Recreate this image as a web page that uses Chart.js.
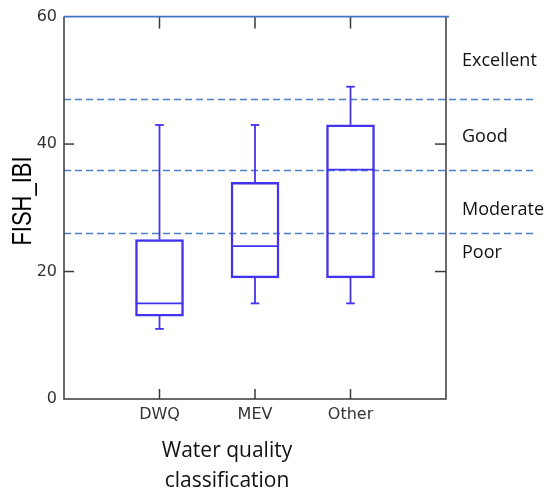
<!DOCTYPE html>
<html><head><meta charset="utf-8">
<script src="https://cdn.jsdelivr.net/npm/chart.js@4.4.1/dist/chart.umd.min.js"></script>
<style>html,body{margin:0;padding:0;background:#fff;overflow:hidden;}</style>
</head><body><canvas id="c" width="551" height="495"></canvas>
<script>
const categories = ['DWQ', 'MEV', 'Other'];
const whiskerLow = [11, 15, 15];
const q1 = [13, 19, 19];
const median = [15, 24, 36];
const q3 = [25, 34, 43];
const whiskerHigh = [43, 43, 49];
const yTicks = [0, 20, 40, 60];
const classThresholds = [47, 36, 26];
const classNames = ['Excellent', 'Good', 'Moderate', 'Poor'];
const classLabelValues = [53, 41.1, 29.6, 22.9];
const xTitle = ['Water quality', 'classification'];
const yTitle = 'FISH_IBI';

const BOX = '#4433ee';
const AXIS = '#3a3a3a';
const DASH = '#4a80c8';
const TOPLINE = '#4472c4';

const boxPlugin = {
  id: 'boxExtras',
  beforeDatasetsDraw(chart) {
    const {ctx, chartArea: a, scales: {x, y}} = chart;
    ctx.save();
    ctx.strokeStyle = DASH; ctx.lineWidth = 1.5; ctx.setLineDash([7, 4]);
    classThresholds.forEach(v => {
      const py = Math.round(y.getPixelForValue(v)) + 0.5;
      ctx.beginPath(); ctx.moveTo(a.left, py); ctx.lineTo(a.right + 91, py); ctx.stroke();
    });
    ctx.setLineDash([]);
    ctx.restore();
  },
  afterDatasetsDraw(chart) {
    const {ctx, chartArea: a, scales: {x, y}} = chart;
    ctx.save();
    ctx.strokeStyle = AXIS; ctx.lineWidth = 1.5;
    ctx.beginPath();
    ctx.moveTo(a.left, a.top); ctx.lineTo(a.left, a.bottom); ctx.lineTo(a.right, a.bottom); ctx.lineTo(a.right, a.top);
    ctx.stroke();
    y.ticks.forEach(t => {
      if (t.value === y.min || t.value === y.max) return;
      const py = y.getPixelForValue(t.value);
      ctx.beginPath(); ctx.moveTo(a.left, py); ctx.lineTo(a.left + 10, py); ctx.stroke();
      ctx.beginPath(); ctx.moveTo(a.right, py); ctx.lineTo(a.right - 11, py); ctx.stroke();
    });
    x.ticks.forEach(t => {
      const px = x.getPixelForValue(t.value);
      ctx.beginPath(); ctx.moveTo(px, a.bottom); ctx.lineTo(px, a.bottom - 10); ctx.stroke();
      ctx.beginPath(); ctx.moveTo(px, a.top); ctx.lineTo(px, a.top + 12); ctx.stroke();
    });
    ctx.strokeStyle = TOPLINE; ctx.lineWidth = 1.8;
    const ty = y.getPixelForValue(y.max);
    ctx.beginPath(); ctx.moveTo(a.left, ty); ctx.lineTo(a.right + 3, ty); ctx.stroke();
    ctx.strokeStyle = BOX; ctx.lineWidth = 1.8;
    const capHalf = 0.045, boxHalf = 0.25;
    categories.forEach((c, i) => {
      const cx = x.getPixelForValue(i + 1);
      const segs = [
        [cx, y.getPixelForValue(q3[i]), cx, y.getPixelForValue(whiskerHigh[i])],
        [cx, y.getPixelForValue(q1[i]), cx, y.getPixelForValue(whiskerLow[i])],
        [x.getPixelForValue(i + 1 - capHalf), y.getPixelForValue(whiskerHigh[i]), x.getPixelForValue(i + 1 + capHalf), y.getPixelForValue(whiskerHigh[i])],
        [x.getPixelForValue(i + 1 - capHalf), y.getPixelForValue(whiskerLow[i]), x.getPixelForValue(i + 1 + capHalf), y.getPixelForValue(whiskerLow[i])],
        [x.getPixelForValue(i + 1 - boxHalf), y.getPixelForValue(median[i]), x.getPixelForValue(i + 1 + boxHalf), y.getPixelForValue(median[i])]
      ];
      segs.forEach(s => { ctx.beginPath(); ctx.moveTo(s[0], s[1]); ctx.lineTo(s[2], s[3]); ctx.stroke(); });
    });
    ctx.fillStyle = '#111';
    ctx.font = '18px "Open Sans"';
    ctx.textAlign = 'left'; ctx.textBaseline = 'middle';
    classNames.forEach((n, i) => ctx.fillText(n, a.right + 16, y.getPixelForValue(classLabelValues[i])));
    ctx.font = '21px "Open Sans"';
    ctx.textAlign = 'center';
    xTitle.forEach((t, i) => ctx.fillText(t, 227, 451 + i * 30));
    ctx.save();
    ctx.translate(23, 201);
    ctx.rotate(-Math.PI / 2);
    ctx.scale(1, 1.27);
    ctx.font = '22px "Liberation Sans"';
    ctx.fillStyle = '#000';
    ctx.textAlign = 'center'; ctx.textBaseline = 'middle';
    ctx.fillText(yTitle, 0, 0);
    ctx.restore();
    ctx.restore();
  }
};

new Chart(document.getElementById('c'), {
  type: 'bar',
  data: {
    datasets: [{
      data: categories.map((c, i) => ({x: i + 1, y: [q1[i], q3[i]]})),
      backgroundColor: 'rgba(0,0,0,0)',
      borderColor: BOX,
      borderWidth: 1.8,
      borderSkipped: false,
      barThickness: 48
    }]
  },
  options: {
    responsive: false,
    animation: false,
    events: [],
    layout: {padding: {top: 16, right: 105, left: 0, bottom: 0}},
    plugins: {legend: {display: false}, tooltip: {enabled: false}},
    scales: {
      x: {
        type: 'linear', min: 0, max: 4, offset: false,
        afterBuildTicks: s => { s.ticks = categories.map((c, i) => ({value: i + 1})); },
        afterFit: s => { s.height = 96; },
        ticks: {
          callback: v => categories[v - 1] ?? '',
          font: {family: 'DejaVu Sans', size: 16},
          color: '#333', padding: 6, maxRotation: 0, autoSkip: false
        },
        grid: {display: false, drawTicks: false, offset: false},
        border: {display: false}
      },
      y: {
        type: 'linear', min: 0, max: 60,
        afterBuildTicks: s => { s.ticks = yTicks.map(v => ({value: v})); },
        afterFit: s => { s.width = 64; },
        ticks: {
          font: {family: 'DejaVu Sans', size: 16},
          color: '#333', padding: 7
        },
        grid: {display: false, drawTicks: false},
        border: {display: false}
      }
    }
  },
  plugins: [boxPlugin]
});
</script>
</body></html>
